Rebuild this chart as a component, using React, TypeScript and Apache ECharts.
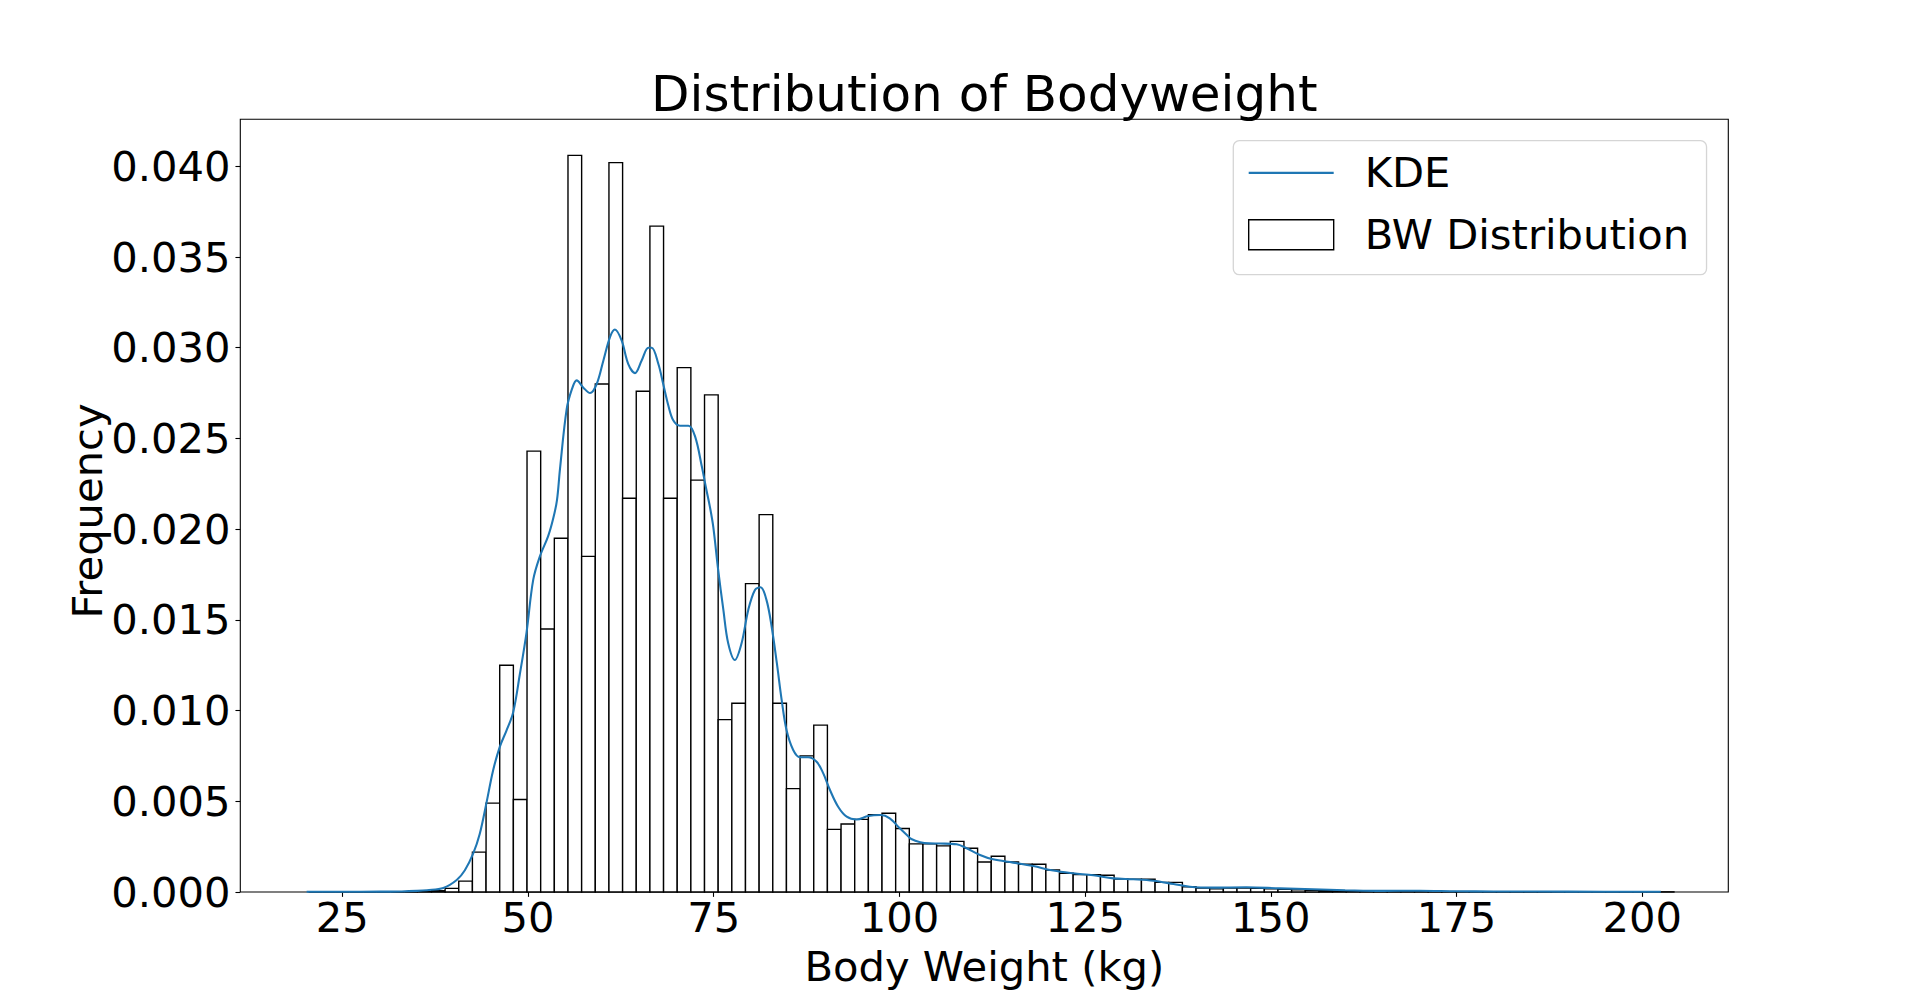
import React, { useEffect, useRef } from 'react';
import * as echarts from 'echarts';

// ---- data ----
const TITLE = 'Distribution of Bodyweight';
const X_NAME = 'Body Weight (kg)';
const Y_NAME = 'Frequency';
const KDE_NAME = 'KDE';
const HIST_NAME = 'BW Distribution';

// histogram: 100 equal bins
const BIN_START = 20.46;
const BIN_WIDTH = 1.838;
const HIST_DENSITY = [
  0, 0, 0, 0, 0, 0, 0, 0, 0.00003, 0.00007,
  0.0002, 0.0006, 0.0022, 0.0049, 0.0125, 0.0051, 0.0243, 0.0145, 0.0195, 0.0406,
  0.0185, 0.028, 0.0402, 0.0217, 0.0276, 0.0367, 0.0217, 0.0289, 0.0227, 0.0274,
  0.0095, 0.0104, 0.017, 0.0208, 0.0104, 0.0057, 0.0075, 0.0092, 0.00345, 0.00375,
  0.004, 0.00426, 0.00434, 0.0035, 0.00265, 0.00265, 0.00254, 0.00279, 0.00241, 0.00165,
  0.00197, 0.00165, 0.00153, 0.00153, 0.00121, 0.00103, 0.00096, 0.00096, 0.00092, 0.00072,
  0.0007, 0.0007, 0.00053, 0.00053, 0.00029, 0.00022, 0.00017, 0.00022, 0.00022, 0.0002,
  0.00018, 0.00015, 0.00012, 0.0001, 0.00008, 0.00006, 0.00005, 0.00004, 0.00003, 0.00004,
  0.00006, 0.00007, 0.00003, 0.00002, 0.00001, 0.00001, 0.00001, 0.00001, 0.00001, 0.00001,
  0.00001, 0.00001, 0.00001, 0.00001, 0.00001, 0.00001, 0.00001, 0.00001, 0.00001, 0.00001,
];

// KDE curve samples
const KDE_X = [
  20.2, 25, 30, 33, 35, 36.4, 38.6, 40.4, 41.5, 42.6,
  43.5, 44.4, 45.3, 46.2, 47.1, 48.0, 48.9, 49.8, 50.7, 51.6,
  52.7, 53.4, 53.9, 54.3, 55.2, 55.9, 56.55, 57.45, 58.35, 59.25,
  60.15, 61.05, 61.7, 62.6, 63.5, 64.4, 65.3, 66.2, 66.65, 67.55,
  68.2, 68.9, 69.55, 70.45, 71.6, 72.5, 73.4, 74.0, 74.5, 74.95,
  75.6, 76.3, 76.95, 77.85, 78.75, 79.65, 80.55, 81.3, 82.1, 82.8,
  83.5, 84.15, 84.8, 85.7, 86.6, 87.7, 88.85, 89.75, 90.65, 91.75,
  92.9, 94.25, 95.8, 97.5, 98.7, 100.05, 101.0, 101.6, 102.8, 104.0,
  105.45, 107.7, 109.05, 110.85, 112.6, 115.3, 118.0, 120.7, 123.4, 126.1,
  128.8, 131.5, 134.2, 136.9, 139.1, 142.25, 146.7, 151.2, 155.7, 160,
  165, 170, 175, 180, 190, 202.5,
];
const KDE_Y = [
  0.00001, 0.00001, 0.00002, 0.00003, 0.00006, 0.0001, 0.00022, 0.00066, 0.0012, 0.0021,
  0.0032, 0.0049, 0.0067, 0.008, 0.0089, 0.0099, 0.012, 0.0143, 0.0172, 0.0185,
  0.0196, 0.0206, 0.0216, 0.0233, 0.0266, 0.0277, 0.0282, 0.0278, 0.0275, 0.028,
  0.0293, 0.0306, 0.031, 0.0304, 0.0291, 0.0286, 0.0293, 0.03, 0.03, 0.0291,
  0.028, 0.0268, 0.026, 0.0257, 0.0257, 0.0251, 0.02345, 0.0222, 0.0212, 0.0201,
  0.01775, 0.01555, 0.01371, 0.01279, 0.01371, 0.01555, 0.01665, 0.0168, 0.0161, 0.01462,
  0.01261, 0.01058, 0.00893, 0.00783, 0.00743, 0.00743, 0.00718, 0.00654, 0.00562, 0.0047,
  0.00415, 0.004, 0.00419, 0.00424, 0.00406, 0.00351, 0.00314, 0.00292, 0.00274, 0.00268,
  0.00267, 0.00263, 0.00241, 0.00204, 0.0018, 0.00162, 0.00143, 0.00118, 0.00103, 0.00092,
  0.00075, 0.0007, 0.00062, 0.00044, 0.00029, 0.00024, 0.00026, 0.0002, 0.00015, 0.0001,
  0.00006, 0.00007, 0.00004, 0.00003, 0.00002, 0.00001,
];

const X_TICKS = [25, 50, 75, 100, 125, 150, 175, 200];
const Y_TICKS = [0, 0.005, 0.01, 0.015, 0.02, 0.025, 0.03, 0.035, 0.04];

// ---- layout / style ----
const FONT = "'DejaVu Sans', sans-serif";
const FS = 41.67;
const LH = 36;
const GRID = { left: 240.3, top: 119.3, width: 1488, height: 772.7 };
const X_MIN = 11.27;
const X_MAX = 211.58;
const Y_MIN = 0;
const Y_MAX = 0.04259;
const KDE_COLOR = '#1f77b4';

export default function App() {
  const ref = useRef<HTMLDivElement>(null);

  useEffect(() => {
    if (!ref.current) return;
    const chart = echarts.init(ref.current, undefined, { renderer: 'svg' });

    const histData = HIST_DENSITY.map((d, i) => [
      BIN_START + i * BIN_WIDTH,
      BIN_START + (i + 1) * BIN_WIDTH,
      d,
    ]);
    const kdeData = KDE_X.map((x, i) => [x, KDE_Y[i]]);

    const cx = GRID.left + GRID.width / 2;

    const textBase = {
      fontFamily: FONT,
      fill: '#000',
      align: 'center',
      verticalAlign: 'middle',
      textAlign: 'center',
      textVerticalAlign: 'middle',
    };

    chart.setOption({
      animation: false,
      backgroundColor: '#ffffff',
      textStyle: { fontFamily: FONT },
      grid: {
        left: GRID.left,
        top: GRID.top,
        width: GRID.width,
        height: GRID.height,
        show: true,
        borderColor: '#000000',
        borderWidth: 1.1,
        backgroundColor: 'transparent',
        containLabel: false,
      },
      xAxis: {
        type: 'value',
        min: X_MIN,
        max: X_MAX,
        axisLine: { show: false },
        splitLine: { show: false },
        axisTick: {
          show: true,
          customValues: X_TICKS,
          length: 4.86,
          lineStyle: { color: '#000', width: 1.1 },
        },
        axisLabel: {
          customValues: X_TICKS,
          fontSize: FS,
          fontFamily: FONT,
          color: '#000',
          margin: 7,
          lineHeight: LH,
          formatter: (v: number) => String(Math.round(v)),
        },
      },
      yAxis: {
        type: 'value',
        min: Y_MIN,
        max: Y_MAX,
        axisLine: { show: false },
        splitLine: { show: false },
        axisTick: {
          show: true,
          customValues: Y_TICKS,
          length: 4.86,
          lineStyle: { color: '#000', width: 1.1 },
        },
        axisLabel: {
          customValues: Y_TICKS,
          fontSize: FS,
          fontFamily: FONT,
          color: '#000',
          margin: 9.7,
          lineHeight: LH,
          formatter: (v: number) => v.toFixed(3),
        },
      },
      legend: {
        orient: 'vertical',
        left: 1233.3,
        top: 140.7,
        padding: [11.2, 17.3, 19, 14.7],
        itemWidth: 85,
        itemHeight: 30,
        itemGap: 19.8,
        backgroundColor: '#ffffff',
        borderColor: '#d5d5d5',
        borderWidth: 1.3,
        borderRadius: 6,
        selectedMode: false,
        symbolKeepAspect: true,
        textStyle: {
          fontSize: FS,
          fontFamily: FONT,
          color: '#000',
          lineHeight: FS,
          padding: [0, 0, 0, 26],
        },
        data: [
          {
            name: KDE_NAME,
            icon: 'path://M0,0H85V2.08H0Z',
            itemStyle: { color: KDE_COLOR, borderWidth: 0 },
          },
          {
            name: HIST_NAME,
            icon: 'rect',
            itemStyle: { color: '#ffffff', borderColor: '#000000', borderWidth: 1.39 },
          },
        ],
      },
      graphic: [
        {
          type: 'text',
          x: cx,
          y: 93.7,
          style: { ...textBase, text: TITLE, fontSize: 50, lineHeight: 44 },
        },
        {
          type: 'text',
          x: cx,
          y: 966,
          style: { ...textBase, text: X_NAME, fontSize: FS, lineHeight: LH },
        },
        {
          type: 'text',
          x: 87,
          y: 511,
          rotation: Math.PI / 2,
          style: { ...textBase, text: Y_NAME, fontSize: FS, lineHeight: LH },
        },
      ],
      series: [
        {
          name: HIST_NAME,
          type: 'custom',
          z: 2,
          itemStyle: { color: '#ffffff', borderColor: '#000000', borderWidth: 1.39 },
          encode: { x: [0, 1], y: 2 },
          data: histData,
          renderItem: (_params: any, api: any) => {
            const x0 = api.value(0);
            const x1 = api.value(1);
            const y = api.value(2);
            const p0 = api.coord([x0, y]);
            const p1 = api.coord([x1, 0]);
            return {
              type: 'rect',
              shape: {
                x: p0[0],
                y: p0[1],
                width: p1[0] - p0[0],
                height: p1[1] - p0[1],
              },
              style: { fill: '#ffffff', stroke: '#000000', lineWidth: 1.39 },
            };
          },
        },
        {
          name: KDE_NAME,
          type: 'line',
          z: 3,
          data: kdeData,
          smooth: 0.35,
          symbol: 'none',
          showSymbol: false,
          lineStyle: { color: KDE_COLOR, width: 2.08 },
          itemStyle: { color: KDE_COLOR },
        },
      ],
    });

    return () => {
      chart.dispose();
    };
  }, []);

  return (
    <div
      ref={ref}
      style={{ position: 'absolute', left: 0, top: 0, width: 1920, height: 1002 }}
    />
  );
}
